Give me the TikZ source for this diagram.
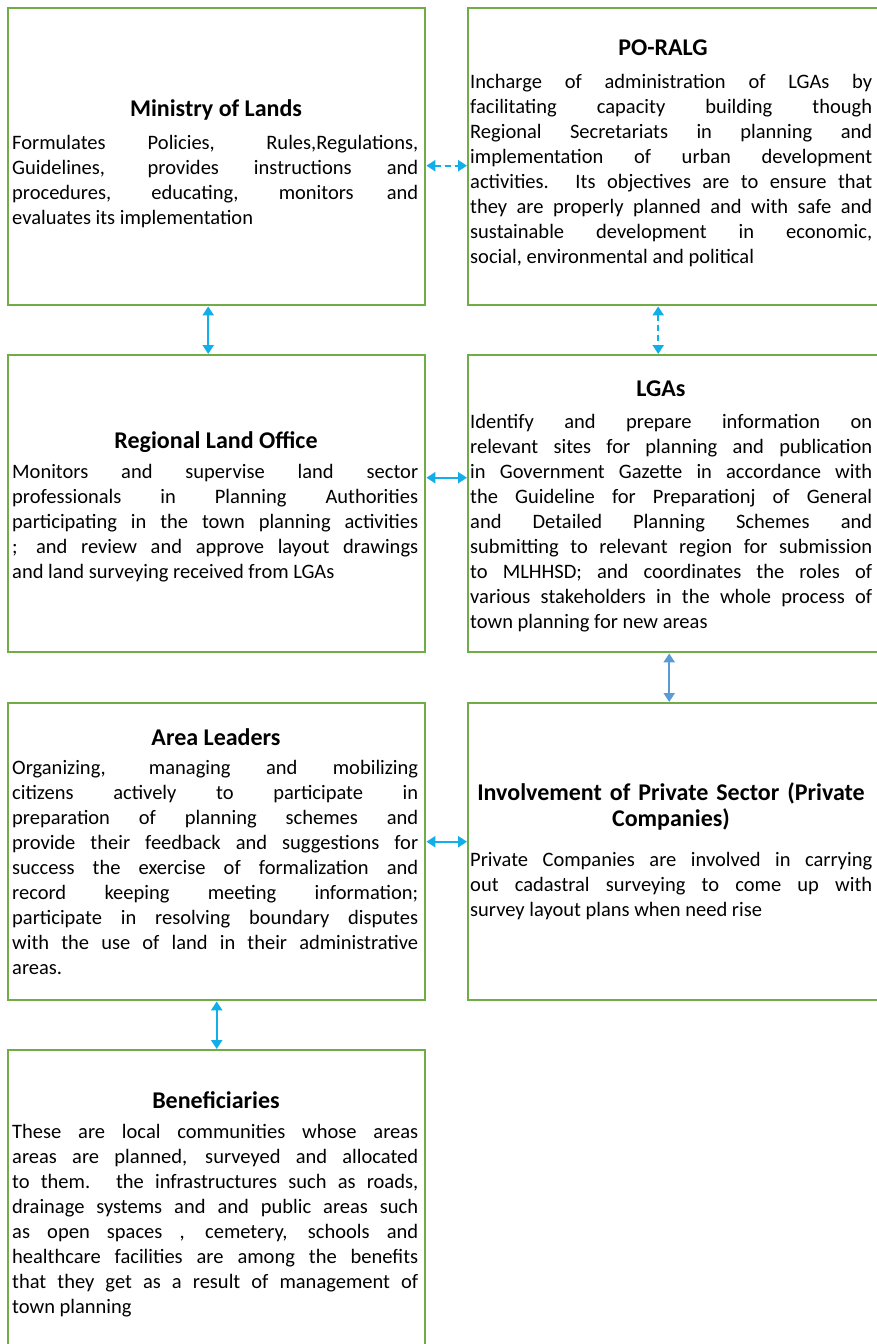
\documentclass[tikz,border=0pt]{standalone}
\usepackage{fontspec}
\setmainfont{Carlito}
\usetikzlibrary{
    arrows.meta,
    positioning
}
\definecolor{boxgreen}{HTML}{70AD47}
\definecolor{linkblue}{HTML}{12AEEA}
\definecolor{linksteel}{HTML}{5B9BD5}

\begin{document}
\begin{tikzpicture}[
    x=1pt, y=-1pt,
    every node/.style={
        font=\fontsize{20.5pt}{25pt}\selectfont
    },
    rolebox/.style={
        rectangle,
        draw=boxgreen,
        line width=2.4pt,
        minimum width=417pt,
        minimum height=297pt,
        anchor=north west,
        inner sep=0pt
    },
    roletitle/.style={
        font=\fontsize{24pt}{26pt}\selectfont\bfseries,
        anchor=base,
        inner sep=0pt,
        align=center
    },
    roletext/.style={
        text width=406pt,
        align=justify,
        anchor=base west,
        inner sep=0pt
    },
    linkarrow/.style={
        {Triangle[length=9pt,width=11pt]}-{Triangle[length=9pt,width=11pt]},
        line width=2.4pt,
        draw=linkblue,
        fill=linkblue
    },
    dashlink/.style={
        linkarrow,
        dash pattern=on 6pt off 4pt
    }
]
\useasboundingbox (0,0) rectangle (876,1344);

% ==========================================================
% Role boxes
% ==========================================================
\node[rolebox] (mol) at (7,7) {};
\node[rolebox] (poralg) at (467,7) {};
\node[rolebox] (rlo) at (7,354) {};
\node[rolebox] (lgas) at (467,354) {};
\node[rolebox] (leaders) at (7,702) {};
\node[rolebox] (private) at (467,702) {};
\node[rolebox] (benef) at (7,1049) {};

% ==========================================================
% Ministry of Lands
% ==========================================================
\node[roletitle] (moltitle) at (216,116) {Ministry of Lands};
\node[roletext] (moltext) at (12,149) {
    Formulates Policies, Rules,Regulations,\linebreak
    Guidelines, provides instructions and\linebreak
    procedures, educating, monitors and\linebreak
    evaluates its implementation
};

% ==========================================================
% PO-RALG
% ==========================================================
\node[roletitle] (potitle) at (663,55) {PO-RALG};
\node[roletext, text width=402pt] (potext) at (470,88) {
    Incharge of administration of LGAs by\linebreak
    facilitating capacity building though\linebreak
    Regional Secretariats in planning and\linebreak
    implementation of urban development\linebreak
    activities. Its objectives are to ensure that\linebreak
    they are properly planned and with safe and\linebreak
    sustainable development in economic,\linebreak
    social, environmental and political
};

% ==========================================================
% Regional Land Office
% ==========================================================
\node[roletitle] (rlotitle) at (216,448) {Regional Land Office};
\node[roletext] (rlotext) at (12,478) {
    Monitors and supervise land sector\linebreak
    professionals in Planning Authorities\linebreak
    participating in the town planning activities\linebreak
    ; and review and approve layout drawings\linebreak
    and land surveying received from LGAs
};

% ==========================================================
% LGAs
% ==========================================================
\node[roletitle] (lgatitle) at (661,396) {LGAs};
\node[roletext, text width=402pt] (lgatext) at (470,428) {
    Identify and prepare information on\linebreak
    relevant sites for planning and publication\linebreak
    in Government Gazette in accordance with\linebreak
    the Guideline for Preparationj of General\linebreak
    and Detailed Planning Schemes and\linebreak
    submitting to relevant region for submission\linebreak
    to MLHHSD; and coordinates the roles of\linebreak
    various stakeholders in the whole process of\linebreak
    town planning for new areas
};

% ==========================================================
% Area Leaders
% ==========================================================
\node[roletitle] (altitle) at (216,745) {Area Leaders};
\node[roletext] (altext) at (12,774) {
    Organizing, managing and mobilizing\linebreak
    citizens actively to participate in\linebreak
    preparation of planning schemes and\linebreak
    provide their feedback and suggestions for\linebreak
    success the exercise of formalization and\linebreak
    record keeping meeting information;\linebreak
    participate in resolving boundary disputes\linebreak
    with the use of land in their administrative\linebreak
    areas.
};

% ==========================================================
% Private Sector
% ==========================================================
\node[roletitle, text width=406pt] (pvttitle) at (671,800) {
    Involvement of Private Sector (Private\\ Companies)
};
\node[roletext, text width=402pt] (pvttext) at (470,866) {
    Private Companies are involved in carrying\linebreak
    out cadastral surveying to come up with\linebreak
    survey layout plans when need rise
};

% ==========================================================
% Beneficiaries
% ==========================================================
\node[roletitle] (bentitle) at (216,1108) {Beneficiaries};
\node[roletext] (bentext) at (12,1138) {
    These are local communities whose areas\linebreak
    areas are planned, surveyed and allocated\linebreak
    to them. the infrastructures such as roads,\linebreak
    drainage systems and and public areas such\linebreak
    as open spaces , cemetery, schools and\linebreak
    healthcare facilities are among the benefits\linebreak
    that they get as a result of management of\linebreak
    town planning
};

% ==========================================================
% Two-way links between boxes
% ==========================================================
\draw[dashlink]
    ([yshift=-9pt]mol.east)
    --
    ([yshift=-9pt]poralg.west);

\draw[linkarrow]
    ([xshift=-8.5pt]mol.south)
    --
    ([xshift=-8.5pt]rlo.north);

\draw[dashlink]
    ([xshift=-18.5pt]poralg.south)
    --
    ([xshift=-18.5pt]lgas.north);

\draw[linkarrow]
    ([yshift=26pt]rlo.east)
    --
    ([yshift=26pt]lgas.west);

\draw[linkarrow, draw=linksteel, fill=linksteel]
    ([xshift=-7.5pt]lgas.south)
    --
    ([xshift=-7.5pt]private.north);

\draw[linkarrow]
    ([yshift=10pt]leaders.east)
    --
    ([yshift=10pt]private.west);

\draw[linkarrow]
    (leaders.south)
    --
    (benef.north);

\end{tikzpicture}
\end{document}
